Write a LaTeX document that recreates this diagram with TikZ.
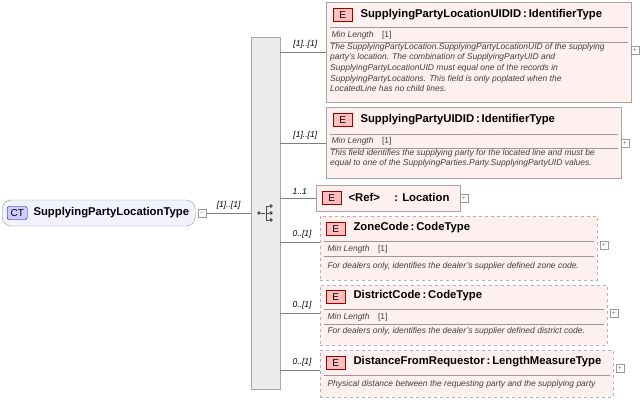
\documentclass[tikz,border=0pt]{standalone}
\usepackage{fontspec}
\setmainfont{Liberation Sans}
\begin{document}
\begin{tikzpicture}[x=1pt,y=-1pt,
  ebox/.style={draw=black!35,fill=red!6,line width=0.8pt},
  dbox/.style={draw=black!30,dashed,fill=red!6,line width=0.8pt},
  etag/.style={draw=red!60!black,fill=red!25,minimum width=19pt,minimum height=13pt,inner sep=0pt,font=\fontsize{10}{10}\selectfont},
  ttl/.style={anchor=west,font=\bfseries\fontsize{11.3}{12}\selectfont},
  small/.style={anchor=west,font=\itshape\fontsize{8.5}{10.6}\selectfont,text=black!75,align=left},
  card/.style={font=\itshape\fontsize{8.5}{9}\selectfont},
  plus/.style={draw=black!40,fill=white,minimum size=8pt,inner sep=0pt,font=\fontsize{7}{7}\selectfont,text=black!50},
  conn/.style={draw=black!50}]
\useasboundingbox (0,0) rectangle (640,402);
% CT node
\node[draw=black!40,fill=blue!5,rounded corners=9pt,minimum width=193pt,minimum height=26pt,anchor=west] (ct) at (2,213) {};
\node[draw=blue!50!black,fill=blue!20,rounded corners=2pt,minimum width=20pt,minimum height=13pt,inner sep=0pt,anchor=west,font=\fontsize{10}{10}\selectfont] (cttag) at (7,213) {CT};
\node[ttl] (ctname) at (30,213) {SupplyingPartyLocationType};
\node[plus] (ctm) at (202,213) {--};
% sequence
\node[draw=black!35,fill=black!8,minimum width=29pt,minimum height=352pt,inner sep=0pt,anchor=north west] (seq) at (251,37) {};
\coordinate (seqin) at (251,213);
\draw[conn] (ctm) -- (seqin) node[midway,above,card]{[1]..[1]};
% sequence icon
\node[circle,fill=black!70,inner sep=1.3pt] (i0) at (259,213) {};
\node[circle,fill=black!70,inner sep=1.3pt] (i1) at (271,206) {};
\node[circle,fill=black!70,inner sep=1.3pt] (i2) at (271,213) {};
\node[circle,fill=black!70,inner sep=1.3pt] (i3) at (271,220) {};
\draw[black!70] (i0) -- (265,213) (i1) -| (266,213) (266,206) |- (i3) (266,213) -- (i2);
% box 1
\node[ebox,minimum width=305pt,minimum height=100pt,anchor=north west,inner sep=0pt] (b1) at (326,2) {};
\node[etag,anchor=west] (t1) at (333,15) {E};
\node[ttl] at (357,15) {SupplyingPartyLocationUIDID\,:\,IdentifierType};
\draw[black!40] (330,27) -- (628,27) (330,42) -- (628,42);
\node[small] at (328,35) {Min Length\quad\upshape[1]};
\node[small,anchor=north west,inner sep=1pt] at (329,42) {The SupplyingPartyLocation.SupplyingPartyLocationUID of the supplying\\party's location. The combination of SupplyingPartyUID and\\SupplyingPartyLocationUID must equal one of the records in\\SupplyingPartyLocations. This field is only poplated when the\\LocatedLine has no child lines.};
\node[plus] (p1) at (635,50) {+};
% box 2
\node[ebox,minimum width=295pt,minimum height=71pt,anchor=north west,inner sep=0pt] (b2) at (326,107) {};
\node[etag,anchor=west] at (333,120) {E};
\node[ttl] at (357,120) {SupplyingPartyUIDID\,:\,IdentifierType};
\draw[black!40] (330,134) -- (618,134) (330,148) -- (618,148);
\node[small] at (328,141) {Min Length\quad\upshape[1]};
\node[small,anchor=north west,inner sep=1pt] at (329,148) {This field identifies the supplying party for the located line and must be\\equal to one of the SupplyingParties.Party.SupplyingPartyUID values.};
\node[plus] (p2) at (625,143) {+};
% box 3 ref
\node[ebox,minimum width=144pt,minimum height=26pt,anchor=north west,inner sep=0pt] (b3) at (316,185) {};
\node[etag,anchor=west] at (322,198) {E};
\node[ttl] at (345,197) {<Ref>\quad\ : Location};
\node[plus] (p3) at (464,198) {+};
% box 4
\node[dbox,minimum width=277pt,minimum height=64pt,anchor=north west,inner sep=0pt] (b4) at (320,216) {};
\node[etag,anchor=west] at (326,229) {E};
\node[ttl] at (350,228) {ZoneCode\,:\,CodeType};
\draw[black!40] (324,241) -- (594,241) (324,256) -- (594,256);
\node[small] at (324,249) {Min Length\quad\upshape[1]};
\node[small] at (324,266) {For dealers only, identifies the dealer's supplier defined zone code.};
\node[plus] (p4) at (604,245) {+};
% box 5
\node[dbox,minimum width=287pt,minimum height=60pt,anchor=north west,inner sep=0pt] (b5) at (320,285) {};
\node[etag,anchor=west] at (326,297) {E};
\node[ttl] at (350,296) {DistrictCode\,:\,CodeType};
\draw[black!40] (324,309) -- (604,309) (324,324) -- (604,324);
\node[small] at (324,317) {Min Length\quad\upshape[1]};
\node[small] at (324,331) {For dealers only, identifies the dealer's supplier defined district code.};
\node[plus] (p5) at (614,313) {+};
% box 6
\node[dbox,minimum width=293pt,minimum height=47pt,anchor=north west,inner sep=0pt] (b6) at (320,350) {};
\node[etag,anchor=west] at (326,363) {E};
\node[ttl] at (350,362) {DistanceFromRequestor\,:\,LengthMeasureType};
\draw[black!40] (324,375) -- (610,375);
\node[small] at (324,384) {Physical distance between the requesting party and the supplying party};
\node[plus] (p6) at (620,368) {+};
% connectors
\foreach \y/\b/\l in {52/b1/{[1]..[1]},143/b2/{[1]..[1]},198/b3/{1..1},242/b4/{0..[1]},313/b5/{0..[1]},370/b6/{0..[1]}}{
  \coordinate (s) at (280,\y);
  \draw[conn] (s) -- (\b.west |- s) node[pos=0.55,above,card]{\l};
}
\end{tikzpicture}
\end{document}
